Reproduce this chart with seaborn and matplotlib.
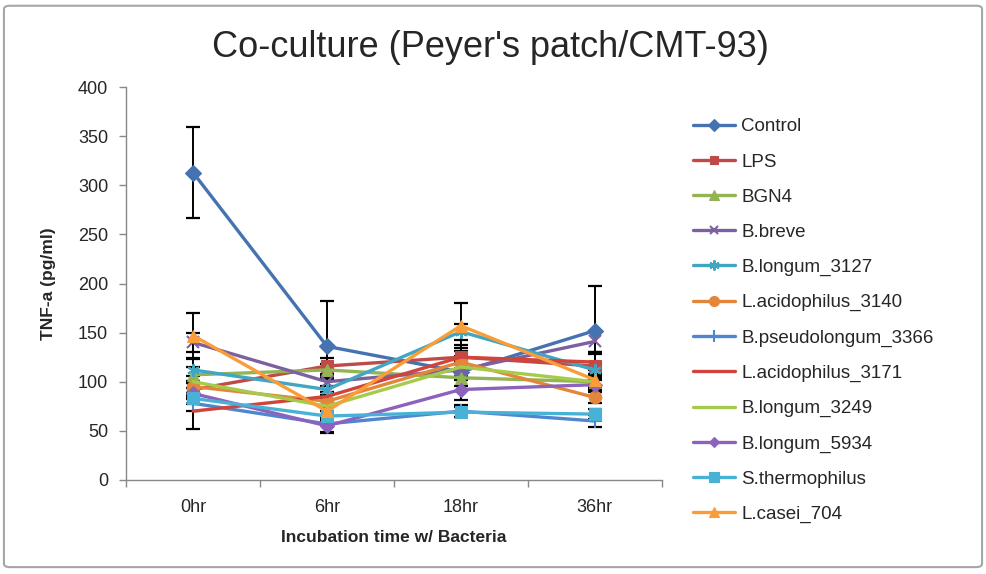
import numpy as np
import pandas as pd
import seaborn as sns
import matplotlib.pyplot as plt
from matplotlib.patches import FancyBboxPatch

# time points on the x axis
times = ['0hr', '6hr', '18hr', '36hr']

# TNF-a (pg/ml) per series
control = [313, 136, 110, 152]
lps = [92, 116, 125, 116]
bgn4 = [107, 112, 104, 100]
b_breve = [140, 100, 112, 141]
b_longum_3127 = [112, 92, 151, 112]
l_acidophilus_3140 = [95, 80, 120, 84]
b_pseudolongum_3366 = [78, 57, 70, 60]
l_acidophilus_3171 = [70, 85, 125, 120]
b_longum_3249 = [100, 75, 115, 100]
b_longum_5934 = [88, 55, 92, 97]
s_thermophilus = [83, 65, 69, 67]
l_casei_704 = [147, 70, 157, 102]

# error bars (same order as above)
control_err = [46, 46, 8, 46]
lps_err = [8, 8, 12, 14]
bgn4_err = [8, 6, 8, 8]
b_breve_err = [10, 4, 6, 11]
b_longum_3127_err = [11, 10, 8, 8]
l_acidophilus_3140_err = [6, 6, 6, 6]
b_pseudolongum_3366_err = [8, 8, 6, 6]
l_acidophilus_3171_err = [18, 5, 6, 8]
b_longum_3249_err = [6, 5, 6, 6]
b_longum_5934_err = [6, 7, 11, 6]
s_thermophilus_err = [6, 5, 5, 5]
l_casei_704_err = [23, 6, 23, 6]

names = ['Control', 'LPS', 'BGN4', 'B.breve', 'B.longum_3127', 'L.acidophilus_3140',
         'B.pseudolongum_3366', 'L.acidophilus_3171', 'B.longum_3249', 'B.longum_5934',
         'S.thermophilus', 'L.casei_704']
values = [control, lps, bgn4, b_breve, b_longum_3127, l_acidophilus_3140,
          b_pseudolongum_3366, l_acidophilus_3171, b_longum_3249, b_longum_5934,
          s_thermophilus, l_casei_704]
errors = [control_err, lps_err, bgn4_err, b_breve_err, b_longum_3127_err,
          l_acidophilus_3140_err, b_pseudolongum_3366_err, l_acidophilus_3171_err,
          b_longum_3249_err, b_longum_5934_err, s_thermophilus_err, l_casei_704_err]

colors = ['#4572B0', '#BE4B48', '#93B452', '#7D60A0', '#40A6C2', '#E2873A',
          '#4E86D0', '#D0443C', '#A6CB4C', '#8C62BC', '#48B2D6', '#F99D38']
markers = ['D', 's', '^', 'x', (6, 2, 0), 'o', '+', '', '', 'D', 's', '^']
msizes = [8, 8, 9, 8, 9, 9, 10, 0, 0, 7, 9, 9]

sns.set_style('white')
plt.rcParams['font.family'] = ['Liberation Sans', 'DejaVu Sans']

fig = plt.figure(figsize=(9.86, 5.74), dpi=100)
ax = fig.add_axes([0.128, 0.164, 0.543, 0.684])

xpos = np.arange(len(times))

# error bars below the lines
for i, (vals, err) in enumerate(zip(values, errors)):
    ax.errorbar(xpos, vals, yerr=err, fmt='none', ecolor='black', elinewidth=1.4,
                capsize=5, capthick=1.6, zorder=2 + i * 0.1)

for i, (name, vals) in enumerate(zip(names, values)):
    df = pd.DataFrame({'x': xpos, 'y': vals})
    sns.lineplot(data=df, x='x', y='y', ax=ax, color=colors[i], linewidth=2.4,
                 marker=markers[i] if markers[i] else None, markersize=msizes[i],
                 markeredgewidth=1.5 if markers[i] in ('x', '+', (6, 2, 0)) else 0.8,
                 markeredgecolor=colors[i], label=name, zorder=3 + i * 0.1)

ax.set_xlim(-0.5, 3.5)
ax.set_ylim(0, 400)
ax.set_yticks(range(0, 401, 50))
ax.set_xticks(xpos)
ax.set_xticklabels(times)
ax.set_xticks(np.arange(-0.5, 4, 1), minor=True)
ax.tick_params(axis='x', which='major', length=0, labelsize=13, pad=14)
ax.tick_params(axis='x', which='minor', length=5, color='#888888', width=1, direction='out')
ax.tick_params(axis='y', length=5, color='#888888', width=1, direction='out', labelsize=13, pad=8)
ax.xaxis.set_ticks_position('bottom')
ax.yaxis.set_ticks_position('left')

for s in ['top', 'right']:
    ax.spines[s].set_visible(False)
for s in ['left', 'bottom']:
    ax.spines[s].set_color('#888888')
    ax.spines[s].set_linewidth(1)

ax.set_xlabel('Incubation time w/ Bacteria', fontsize=12.5, fontweight='bold', labelpad=10)
ax.set_ylabel('TNF-a (pg/ml)', fontsize=12.5, fontweight='bold', labelpad=16)

fig.text(0.497, 0.917, "Co-culture (Peyer's patch/CMT-93)", fontsize=26,
         ha='center', va='center')

leg = ax.legend(loc='upper left', bbox_to_anchor=(1.045, 0.94), frameon=False,
                fontsize=13.5, handlelength=2.25, labelspacing=0.96, handletextpad=0.3,
                borderaxespad=0, markerscale=0.8)

# chart border
frame = FancyBboxPatch((0.004, 0.012), 0.992, 0.978, boxstyle='round,pad=0,rounding_size=0.006',
                       transform=fig.transFigure, fill=False, edgecolor='#A6A6A6', linewidth=1.5)
fig.patches.append(frame)

plt.savefig('out.png', dpi=100)
